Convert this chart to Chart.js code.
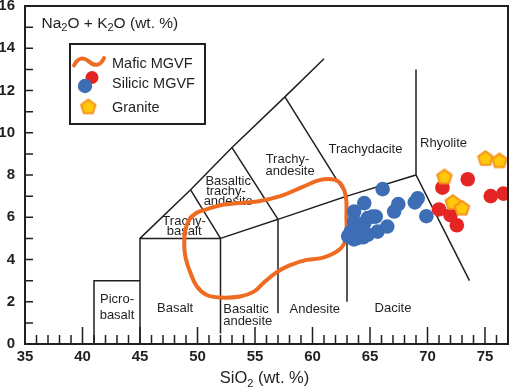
<!DOCTYPE html>
<html><head><meta charset="utf-8">
<script src="https://cdn.jsdelivr.net/npm/chart.js@4.4.0/dist/chart.umd.min.js"></script>
<style>html,body{margin:0;padding:0;background:#fff;}canvas{display:block;}</style>
</head><body>
<canvas id="c" width="512" height="387"></canvas>
<script>
// ---- tick labels ----
const xTicks = [35, 40, 45, 50, 55, 60, 65, 70, 75];
const yTicks = [0, 2, 4, 6, 8, 10, 12, 14, 16];

// ---- Mafic MGVF envelope (closed curve) ----
const maficX = [48.85, 48.9, 49.3, 49.9, 50.6, 52.3, 55.2, 57.2, 59.2, 60.7, 61.9, 62.5, 62.9, 62.95, 62.9, 62.4, 61.0, 59.5, 58.0, 56.9, 55.75, 54.9, 53.7, 52.0, 50.8, 49.95, 49.4, 49.0, 48.85, 48.9];
const maficY = [4.6, 5.3, 5.9, 6.2, 6.35, 6.6, 6.75, 7.0, 7.45, 7.77, 7.78, 7.55, 7.0, 6.0, 5.0, 4.5, 4.1, 3.98, 3.72, 3.4, 2.9, 2.48, 2.25, 2.2, 2.32, 2.72, 3.35, 4.0, 4.6, 5.3];

// ---- Silicic MGVF (blue: dacites, red: rhyolites) ----
const silicicBlueX = [66.1, 64.5, 63.62, 67.46, 67.1, 69.15, 68.9, 69.9, 65.5, 64.8, 66.5, 65.66, 64.2, 63.33, 63.1, 63.9, 64.8, 63.62, 64.5, 63.6, 64.4, 65.2];
const silicicBlueY = [7.33, 6.67, 6.27, 6.62, 6.27, 6.9, 6.7, 6.05, 6.03, 5.96, 5.56, 5.32, 5.56, 5.32, 5.1, 5.01, 5.17, 5.8, 5.72, 4.95, 5.05, 6.03];
const silicicRedX = [73.5, 71.3, 71.0, 72.0, 72.55, 75.5, 76.6];
const silicicRedY = [7.8, 7.4, 6.37, 6.1, 5.62, 7.0, 7.12];

// ---- Granite ----
const graniteX = [71.47, 72.2, 73.0, 75.04, 76.26];
const graniteY = [7.93, 6.72, 6.45, 8.8, 8.69];

// ---- TAS field boundaries (null = break) ----
const tasX = [41, 41, 45, null, 45, 45, 52, 52, null, 52, 57, 57, null, 57, 63, 63, null, 63, 69, 73.65, null,
              45, 49.4, 53, 57.6, 61, null, 49.4, 52, null, 53, 57, null, 57.6, 63, null, 69, 69];
const tasY = [0, 3, 3, null, 0, 5, 5, 0.5, null, 5, 5.9, 1.45, null, 5.9, 7, 2.0, null, 7, 8, 3.0, null,
              5, 7.3, 9.3, 11.7, 13.5, null, 7.3, 5, null, 9.3, 5.9, null, 11.7, 7, null, 8, 13];

// ---- TAS field names ----
const fieldText = ['Picro-', 'basalt', 'Basalt', 'Basaltic', 'andesite', 'Andesite', 'Dacite', 'Trachy-', 'basalt',
                   'Basaltic', 'trachy-', 'andesite', 'Trachy-', 'andesite', 'Trachydacite', 'Rhyolite'];
const fieldX = [43.0, 43.0, 48.05, 54.22, 54.37, 60.2, 67.0, 48.84, 48.84, 52.67, 52.48, 52.67, 57.82, 58.05, 64.6, 71.4];
const fieldY = [2.09, 1.33, 1.69, 1.64, 1.06, 1.64, 1.69, 5.8, 5.32, 7.69, 7.22, 6.74, 8.72, 8.17, 9.23, 9.51];

const INK = '#231F20';
const ORANGE = '#EF6B22';
const BLUE = '#3D6DB5';
const RED = '#E42523';
const YELLOW = '#FFC80A';
const PENT_EDGE = '#F7941D';
const FONT = 'Liberation Sans, Arial, sans-serif';

function pts(xs, ys) { return xs.map((x, i) => ({x: x, y: ys[i]})); }

function pentagonPath(ctx, cx, cy, r) {
  ctx.beginPath();
  for (let i = 0; i < 5; i++) {
    const a = -Math.PI / 2 + i * 2 * Math.PI / 5;
    const px = cx + r * Math.cos(a), py = cy + r * Math.sin(a);
    if (i === 0) ctx.moveTo(px, py); else ctx.lineTo(px, py);
  }
  ctx.closePath();
}
function makePentagon(r) {
  const s = Math.ceil(2 * r + 4);
  const cv = document.createElement('canvas');
  cv.width = s; cv.height = s;
  const c = cv.getContext('2d');
  pentagonPath(c, s / 2, s / 2 + 0.7, r);
  c.fillStyle = YELLOW; c.fill();
  c.lineWidth = 2; c.strokeStyle = PENT_EDGE; c.lineJoin = 'round'; c.stroke();
  return cv;
}
const pentImg = makePentagon(7.6);

function drawSubText(ctx, parts, x, y, size, align) {
  const big = size + 'px ' + FONT, small = Math.round(size * 0.68) + 'px ' + FONT;
  let w = 0;
  parts.forEach(p => { ctx.font = p[1] ? small : big; w += ctx.measureText(p[0]).width; });
  let cx = align === 'center' ? x - w / 2 : x;
  ctx.textAlign = 'left'; ctx.textBaseline = 'alphabetic';
  parts.forEach(p => {
    ctx.font = p[1] ? small : big;
    ctx.fillText(p[0], cx, y + (p[1] ? size * 0.22 : 0));
    cx += ctx.measureText(p[0]).width;
  });
}

const decor = {
  id: 'decor',
  beforeDatasetsDraw(chart) {
    const ctx = chart.ctx, xs = chart.scales.x, ys = chart.scales.y;
    ctx.save();
    ctx.fillStyle = INK;
    ctx.font = '13px ' + FONT;
    ctx.textAlign = 'center'; ctx.textBaseline = 'middle';
    fieldText.forEach((t, i) => {
      ctx.fillText(t, xs.getPixelForValue(fieldX[i]), ys.getPixelForValue(fieldY[i]));
    });
    ctx.restore();
  },
  afterDraw(chart) {
    const ctx = chart.ctx, a = chart.chartArea, xs = chart.scales.x, ys = chart.scales.y;
    ctx.save();
    // inward tick marks
    ctx.strokeStyle = INK; ctx.lineWidth = 1.5;
    ctx.beginPath();
    for (let v = 36; v < 77; v++) {
      const px = xs.getPixelForValue(v);
      const len = (v % 5 === 0) ? 17 : 9;
      ctx.moveTo(px, a.bottom); ctx.lineTo(px, a.bottom - len);
    }
    for (let v = 1; v < 16; v++) {
      const py = ys.getPixelForValue(v);
      ctx.moveTo(a.left, py); ctx.lineTo(a.left + 8, py);
    }
    ctx.stroke();
    // frame
    ctx.lineWidth = 2;
    ctx.strokeRect(a.left, a.top, a.right - a.left, a.bottom - a.top);
    // axis titles
    ctx.fillStyle = INK;
    drawSubText(ctx, [['Na', 0], ['2', 1], ['O + K', 0], ['2', 1], ['O (wt. %)', 0]], 41.5, 28, 15.5, 'left');
    drawSubText(ctx, [['SiO', 0], ['2', 1], [' (wt. %)', 0]], 264.5, 383, 16.5, 'center');
    // legend
    ctx.lineWidth = 2; ctx.strokeStyle = INK;
    ctx.strokeRect(70, 44, 135, 80);
    ctx.strokeStyle = ORANGE; ctx.lineWidth = 4; ctx.lineCap = 'round';
    ctx.beginPath();
    ctx.moveTo(74, 65.5);
    ctx.bezierCurveTo(78, 57, 84, 57, 89, 61.5);
    ctx.bezierCurveTo(94, 66, 100, 67, 104, 58);
    ctx.stroke();
    ctx.fillStyle = RED; ctx.beginPath(); ctx.arc(92, 77.5, 6.5, 0, Math.PI * 2); ctx.fill();
    ctx.fillStyle = BLUE; ctx.beginPath(); ctx.arc(85, 86, 7.2, 0, Math.PI * 2); ctx.fill();
    ctx.drawImage(pentImg, 88.3 - pentImg.width / 2, 106.5 - pentImg.height / 2);
    ctx.fillStyle = INK; ctx.font = '14.5px ' + FONT; ctx.textAlign = 'left'; ctx.textBaseline = 'middle';
    ctx.fillText('Mafic MGVF', 112, 63.5);
    ctx.fillText('Silicic MGVF', 112, 84);
    ctx.fillText('Granite', 112, 107.5);
    ctx.restore();
  }
};

new Chart(document.getElementById('c'), {
  type: 'scatter',
  data: {
    datasets: [
      { label: 'Granite', data: pts(graniteX, graniteY), pointStyle: pentImg, pointRadius: 8, order: 0 },
      { label: 'Silicic MGVF (rhyolite)', data: pts(silicicRedX, silicicRedY), backgroundColor: RED, borderWidth: 0, pointRadius: 7.3, order: 1 },
      { label: 'Silicic MGVF', data: pts(silicicBlueX, silicicBlueY), backgroundColor: BLUE, borderWidth: 0, pointRadius: 7.3, order: 2 },
      { label: 'Mafic MGVF', data: pts(maficX, maficY), showLine: true, borderColor: ORANGE, borderWidth: 4, pointRadius: 0, tension: 0.4, fill: false, order: 3 },
      { label: 'TAS', data: pts(tasX, tasY), showLine: true, spanGaps: false, borderColor: INK, borderWidth: 1.5, pointRadius: 0, tension: 0, order: 4 }
    ]
  },
  options: {
    responsive: false, animation: false, devicePixelRatio: 1,
    layout: { autoPadding: false, padding: { top: 6, right: 4, left: 0, bottom: 0 } },
    plugins: { legend: { display: false }, tooltip: { enabled: false } },
    scales: {
      x: {
        type: 'linear', min: 35, max: 77,
        grid: { display: false, drawTicks: false }, border: { display: false },
        afterBuildTicks: s => { s.ticks = xTicks.map(v => ({ value: v })); },
        ticks: { autoSkip: false, maxRotation: 0, padding: 4, color: INK, font: { family: FONT, size: 15, weight: 'bold' } },
        afterFit: s => { s.height = 43; s.paddingLeft = 0; s.paddingRight = 0; s.paddingTop = 0; s.paddingBottom = 0; }
      },
      y: {
        type: 'linear', min: 0, max: 16,
        grid: { display: false, drawTicks: false }, border: { display: false },
        afterBuildTicks: s => { s.ticks = yTicks.map(v => ({ value: v })); },
        ticks: { autoSkip: false, padding: 10, color: INK, font: { family: FONT, size: 15, weight: 'bold' } },
        afterFit: s => { s.width = 25; s.paddingLeft = 0; s.paddingRight = 0; s.paddingTop = 0; s.paddingBottom = 0; }
      }
    }
  },
  plugins: [decor]
});
</script>
</body></html>
